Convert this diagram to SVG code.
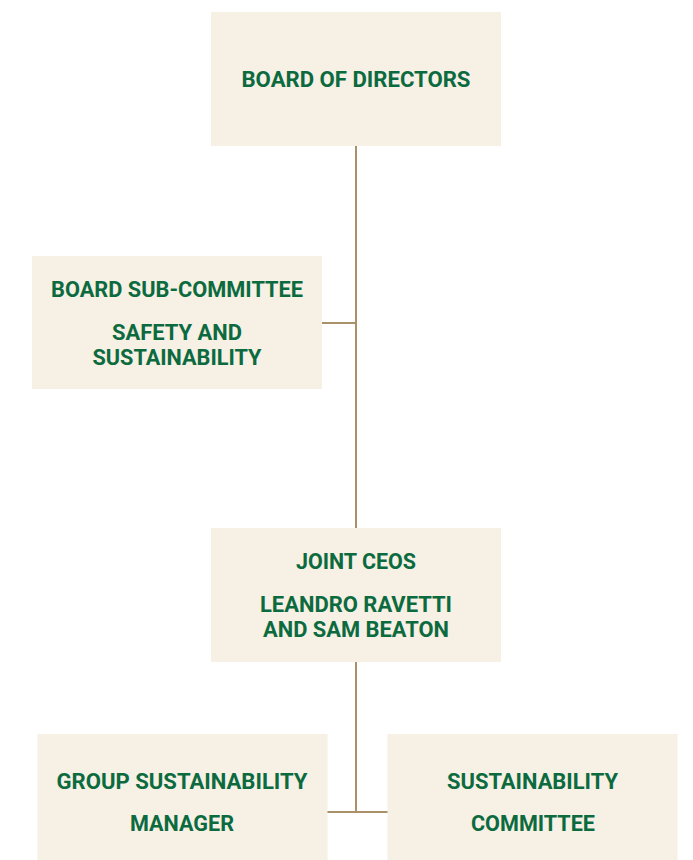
<svg xmlns="http://www.w3.org/2000/svg" width="693" height="860" viewBox="0 0 693 860">
  <style>
    .box { fill: #f6f0e5; }
    .lbl { font-family: Roboto, "Liberation Sans", sans-serif; font-weight: 700; font-size: 22px; fill: #0c6a3f; text-anchor: middle; }
    .link { stroke: #ab9169; stroke-width: 2; fill: none; }
  </style>
  <rect width="693" height="860" fill="#ffffff"/>

  <g id="connectors">
    <line class="link" x1="356" y1="146" x2="356" y2="528"/>
    <line class="link" x1="321" y1="323" x2="356" y2="323"/>
    <line class="link" x1="356" y1="662" x2="356" y2="812"/>
    <line class="link" x1="327" y1="812" x2="388" y2="812"/>
  </g>

  <g id="board">
    <rect class="box" x="211" y="12" width="290" height="134"/>
    <text class="lbl" x="356" y="87" textLength="229" lengthAdjust="spacingAndGlyphs">BOARD OF DIRECTORS</text>
  </g>

  <g id="sub-committee">
    <rect class="box" x="32" y="256" width="290" height="133"/>
    <text class="lbl" x="177" y="297" textLength="252" lengthAdjust="spacingAndGlyphs">BOARD SUB-COMMITTEE</text>
    <text class="lbl" x="177" y="340" textLength="130" lengthAdjust="spacingAndGlyphs">SAFETY AND</text>
    <text class="lbl" x="177" y="365" textLength="169" lengthAdjust="spacingAndGlyphs">SUSTAINABILITY</text>
  </g>

  <g id="ceos">
    <rect class="box" x="211" y="528" width="290" height="134"/>
    <text class="lbl" x="356" y="569" textLength="120" lengthAdjust="spacingAndGlyphs">JOINT CEOS</text>
    <text class="lbl" x="356" y="612" textLength="192" lengthAdjust="spacingAndGlyphs">LEANDRO RAVETTI</text>
    <text class="lbl" x="356" y="637" textLength="186" lengthAdjust="spacingAndGlyphs">AND SAM BEATON</text>
  </g>

  <g id="group-manager">
    <rect class="box" x="37.5" y="734" width="290" height="126"/>
    <text class="lbl" x="182" y="788.5" textLength="251" lengthAdjust="spacingAndGlyphs">GROUP SUSTAINABILITY</text>
    <text class="lbl" x="182" y="830.5" textLength="104" lengthAdjust="spacingAndGlyphs">MANAGER</text>
  </g>

  <g id="sustainability-committee">
    <rect class="box" x="387.5" y="734" width="290" height="126"/>
    <text class="lbl" x="532.5" y="788.5" textLength="171" lengthAdjust="spacingAndGlyphs">SUSTAINABILITY</text>
    <text class="lbl" x="533" y="830.5" textLength="124" lengthAdjust="spacingAndGlyphs">COMMITTEE</text>
  </g>
</svg>
